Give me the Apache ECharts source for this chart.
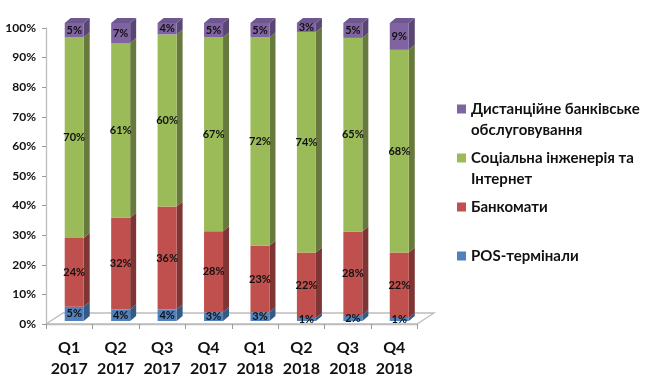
<!DOCTYPE html>
<html><head><meta charset="utf-8">
<style>html,body{margin:0;padding:0;background:#fff}#c{width:650px;height:385px}</style>
<script src="https://cdn.jsdelivr.net/npm/echarts@6/dist/echarts.min.js"></script>
</head><body><div id="c"></div>
<script>
var categories = ['Q1\n2017','Q2\n2017','Q3\n2017','Q4\n2017','Q1\n2018','Q2\n2018','Q3\n2018','Q4\n2018'];
var pos    = [5,4,4,3,3,1,2,1];
var atm    = [24,32,36,28,23,22,28,22];
var social = [70,61,60,67,72,74,65,68];
var remote = [5,7,4,5,5,3,5,9];
var yTicks = {min:0,max:100,interval:10};

var defs = [
  {name:'POS-термінали', values:pos, front:'#4F81BD', side:'#345A86', top:'#3F6CA3'},
  {name:'Банкомати', values:atm, front:'#C0504D', side:'#7F3533', top:'#9C413F'},
  {name:'Соціальна інженерія та\nІнтернет', values:social, front:'#9BBB59', side:'#67793C', top:'#7F9A49'},
  {name:'Дистанційне банківське\nобслуговування', values:remote, front:'#8064A2', side:'#5A4672', top:'#6F5791'}
];
var legendOrder = [
  {i:3,y:109},{i:2,y:158},{i:1,y:207},{i:0,y:256}
];
var DX=6, DY=5, SHIFT=5, BAR=19;

function makeRender(d){
  return function(params, api){
    var c=api.value(0), v0=api.value(1), v1=api.value(2), raw=api.value(3);
    var a=api.coord([c,v0]), b=api.coord([c,v1]);
    var l=a[0]+SHIFT-BAR/2, r=l+BAR, yb=a[1], yt=b[1];
    var kids=[
      {type:'polygon',shape:{points:[[r,yb],[r+DX,yb-DY],[r+DX,yt-DY],[r,yt]]},style:{fill:d.side}},
      {type:'rect',shape:{x:l,y:yt,width:BAR,height:yb-yt},style:{fill:d.front}}
    ];
    if(d===defs[3]) kids.push({type:'polygon',shape:{points:[[l,yt],[l+DX,yt-DY],[r+DX,yt-DY],[r,yt]]},style:{fill:d.top}});
    kids.push({type:'text',z2:100,style:{text:raw+'%',x:(l+r)/2,y:(yb+yt)/2,align:'center',verticalAlign:'middle',
      font:'bold 11px Lato',fill:'#111'}});
    return {type:'group',children:kids};
  };
}

var totals = categories.map(function(_,i){return defs.reduce(function(s,d){return s+d.values[i];},0);});
var running = categories.map(function(){return 0;});
var series = defs.map(function(d){
  var data = d.values.map(function(v,i){
    var s=running[i]; running[i]+=v;
    return [i, s/totals[i]*100, running[i]/totals[i]*100, v];
  });
  return {type:'custom',name:d.name,xAxisIndex:1,yAxisIndex:1,renderItem:makeRender(d),
    encode:{x:0,y:[1,2]},data:data,clip:false,silent:true,animation:false};
});

var graphic = [
  {type:'polygon',z:0,silent:true,shape:{points:[[46,324],[63,313],[434,313],[417,324]]},
   style:{fill:'#fff',stroke:'#BDBDBD',lineWidth:1.3}}
];
legendOrder.forEach(function(o){
  var d=defs[o.i];
  graphic.push({type:'rect',z:5,silent:true,shape:{x:457,y:o.y-4.5,width:9,height:9},style:{fill:d.front}});
  graphic.push({type:'text',z:5,silent:true,style:{text:d.name,x:471,y:o.y-10,
    font:'bold 15px Lato',fill:'#111',lineHeight:20.5,align:'left',verticalAlign:'top'}});
});

var chart = echarts.init(document.getElementById('c'),null,{renderer:'canvas'});
chart.setOption({
  animation:false,
  backgroundColor:'#fff',
  grid:[
    {left:46,width:371.5,top:28,height:296},
    {left:46,width:371.5,top:23,height:298}
  ],
  xAxis:[
    {gridIndex:0,type:'category',data:categories,boundaryGap:true,
     axisLine:{lineStyle:{color:'#BDBDBD',width:1.3}},
     axisTick:{show:true,alignWithLabel:false,length:5,lineStyle:{color:'#9A9A9A'}},
     axisLabel:{interval:0,margin:13,color:'#111',lineHeight:21,
       fontFamily:'Lato',fontWeight:700,fontSize:16}},
    {gridIndex:1,type:'category',data:categories,show:false}
  ],
  yAxis:[
    {gridIndex:0,type:'value',min:yTicks.min,max:yTicks.max,interval:yTicks.interval,
     axisLine:{show:true,lineStyle:{color:'#BDBDBD',width:1.3}},
     axisTick:{show:true,length:4,lineStyle:{color:'#9A9A9A'}},
     splitLine:{show:false},
     axisLabel:{formatter:'{value}%',margin:10,color:'#111',fontFamily:'Lato',fontWeight:700,fontSize:12}},
    {gridIndex:1,type:'value',min:0,max:100,show:false,splitLine:{show:false}}
  ],
  graphic:graphic,
  series:series
});
</script></body></html>
